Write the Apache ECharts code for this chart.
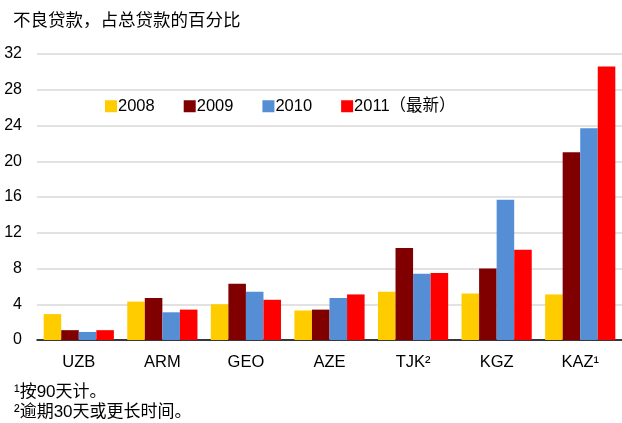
<!DOCTYPE html>
<html><head><meta charset="utf-8">
<script src="https://cdn.jsdelivr.net/npm/echarts@6/dist/echarts.min.js"></script>
<style>html,body{margin:0;padding:0;background:#fff}#c{width:622px;height:423px}</style>
</head><body><div id="c"></div>
<script>
var categories = ['UZB','ARM','GEO','AZE','TJK²','KGZ','KAZ¹'];
var s2008 = [2.9, 4.3, 4.0, 3.3, 5.4, 5.2, 5.1];
var s2009 = [1.1, 4.7, 6.3, 3.4, 10.3, 8.0, 21.0];
var s2010 = [0.9, 3.1, 5.4, 4.7, 7.4, 15.7, 23.7];
var s2011 = [1.1, 3.4, 4.5, 5.1, 7.5, 10.1, 30.6];
var seriesNames = ['2008','2009','2010','2011（最新）'];
var yTicks = {min: 0, max: 32, interval: 4};
var title = '不良贷款，占总贷款的百分比';
var notes = ['¹按90天计。', '²逾期30天或更长时间。'];

var FONT = '"Liberation Sans", Arial, "Noto Sans CJK SC", sans-serif';
var colors = ['#FFCC00', '#800000', '#558ED5', '#FF0000'];
var data = [s2008, s2009, s2010, s2011];

var chart = echarts.init(document.getElementById('c'));
chart.setOption({
  animation: false,
  textStyle: {fontFamily: FONT},
  grid: {left: 37, right: 0, top: 54, bottom: 83, containLabel: false},
  legend: {
    left: 100, top: 93, itemWidth: 12, itemHeight: 12, itemGap: 29,
    icon: 'rect',
    textStyle: {fontSize: 16.5, color: '#000', fontFamily: FONT, padding: [0,0,0,-4]},
    data: seriesNames
  },
  xAxis: {
    type: 'category', data: categories,
    axisLine: {lineStyle: {color: '#000', width: 1.5}},
    axisTick: {inside: true, length: 5, lineStyle: {color: '#000', width: 1.5}},
    axisLabel: {fontSize: 16.5, color: '#000', margin: 14, fontFamily: FONT}
  },
  yAxis: {
    type: 'value', min: yTicks.min, max: yTicks.max, interval: yTicks.interval,
    axisLine: {show: false}, axisTick: {show: false},
    splitLine: {lineStyle: {color: '#D9D9D9', width: 1.5}},
    axisLabel: {fontSize: 16, color: '#000', margin: 15, fontFamily: FONT}
  },
  series: seriesNames.map(function(n, i){
    return {name: n, type: 'bar', data: data[i], barGap: '0%', barCategoryGap: '16%',
      itemStyle: {color: colors[i]}};
  }),
  graphic: [
    {type: 'text', left: 13, top: 11, style: {text: title, fontSize: 17.5, fill: '#000', fontFamily: '"Noto Sans CJK SC", sans-serif'}},
    {type: 'text', left: 14, top: 384, style: {text: notes[0], fontSize: 17, fill: '#000', fontFamily: FONT}},
    {type: 'text', left: 14, top: 404, style: {text: notes[1], fontSize: 17, fill: '#000', fontFamily: FONT}}
  ]
});
</script></body></html>
